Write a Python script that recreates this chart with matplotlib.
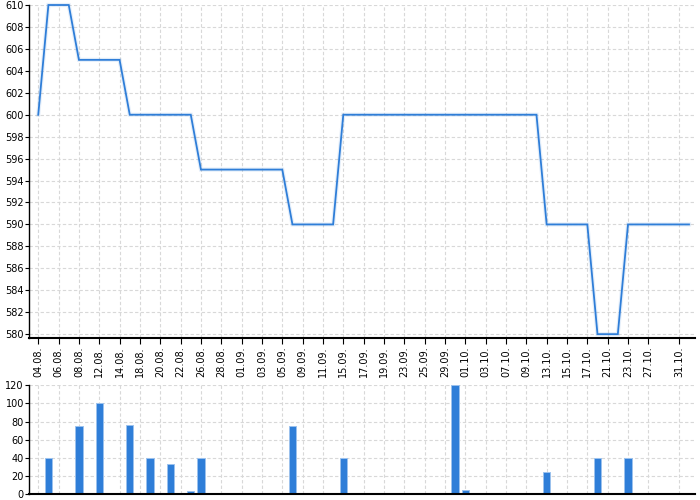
import matplotlib
matplotlib.use("Agg")
import matplotlib.pyplot as plt
import numpy as np

# Trading-day categories (labels)
dates = ["04.08.", "05.08.", "06.08.", "07.08.", "08.08.", "11.08.", "12.08.", "13.08.", "14.08.", "15.08.",
         "18.08.", "19.08.", "20.08.", "21.08.", "22.08.", "25.08.", "26.08.", "27.08.", "28.08.", "29.08.",
         "01.09.", "02.09.", "03.09.", "04.09.", "05.09.", "08.09.", "09.09.", "10.09.", "11.09.", "12.09.",
         "15.09.", "16.09.", "17.09.", "18.09.", "19.09.", "22.09.", "23.09.", "24.09.", "25.09.", "26.09.",
         "29.09.", "30.09.", "01.10.", "02.10.", "03.10.", "06.10.", "07.10.", "08.10.", "09.10.", "10.10.",
         "13.10.", "14.10.", "15.10.", "16.10.", "17.10.", "20.10.", "21.10.", "22.10.", "23.10.", "24.10.",
         "27.10.", "29.10.", "30.10.", "31.10.", "03.11."]

price = [600, 610, 610, 610, 605, 605, 605, 605, 605, 600,
         600, 600, 600, 600, 600, 600, 595, 595, 595, 595,
         595, 595, 595, 595, 595, 590, 590, 590, 590, 590,
         600, 600, 600, 600, 600, 600, 600, 600, 600, 600,
         600, 600, 600, 600, 600, 600, 600, 600, 600, 600,
         590, 590, 590, 590, 590, 580, 580, 580, 590, 590,
         590, 590, 590, 590, 590]

volume = [0, 40, 0, 0, 75, 0, 100, 0, 0, 76,
          0, 40, 0, 33, 0, 3, 40, 0, 0, 0,
          0, 0, 0, 0, 0, 75, 0, 0, 0, 0,
          40, 0, 0, 0, 0, 0, 0, 0, 0, 0,
          0, 120, 4, 0, 0, 0, 0, 0, 0, 0,
          24, 0, 0, 0, 0, 40, 0, 0, 40, 0,
          0, 0, 0, 0, 0]

shown_labels = ["04.08.", "06.08.", "08.08.", "12.08.", "14.08.", "18.08.", "20.08.", "22.08.",
                "26.08.", "28.08.", "01.09.", "03.09.", "05.09.", "09.09.", "11.09.", "15.09.",
                "17.09.", "19.09.", "23.09.", "25.09.", "29.09.", "01.10.", "03.10.", "07.10.",
                "09.10.", "13.10.", "15.10.", "17.10.", "21.10.", "23.10.", "27.10.", "31.10."]

blue = "#2f7ed8"
grid_kw = dict(color="#d8d8d8", linestyle=(0, (3, 2)), linewidth=0.8)

fig = plt.figure(figsize=(7, 5), dpi=100)
ax1 = fig.add_axes([0.042, 0.324, 0.951, 0.666])
ax2 = fig.add_axes([0.042, 0.012, 0.951, 0.2174])

x = np.arange(len(dates))
tick_pos = [dates.index(d) for d in shown_labels]

ax1.plot(x, price, color=blue, linewidth=3.0, alpha=0.12, solid_joinstyle="miter", clip_on=False)
ax1.plot(x, price, color=blue, linewidth=1.3, solid_joinstyle="miter", clip_on=False)
ax1.set_ylim(579.65, 610)
ax1.set_xlim(-0.87, 64.6)
ax1.set_yticks(np.arange(580, 611, 2))
ax1.set_xticks(tick_pos)
ax1.set_xticklabels(shown_labels, rotation=90, fontsize=7)
ax1.tick_params(axis="y", labelsize=7, length=3, width=0.8, pad=1)
ax1.tick_params(axis="x", length=4, width=0.8, pad=2)
ax1.grid(True, **grid_kw)
ax1.set_axisbelow(True)

ax2.bar(x, volume, width=0.72, color=blue, edgecolor="#9cc2ee", linewidth=0.7)
ax2.set_ylim(0, 120)
ax2.set_xlim(-0.87, 64.6)
ax2.set_yticks(np.arange(0, 121, 20))
ax2.set_xticks(tick_pos)
ax2.set_xticklabels([])
ax2.tick_params(axis="y", labelsize=7, length=3, width=0.8, pad=1)
ax2.tick_params(axis="x", length=0)
ax2.grid(True, **grid_kw)
ax2.set_axisbelow(True)

for ax in (ax1, ax2):
    ax.spines["top"].set_visible(False)
    ax.spines["right"].set_visible(False)
    ax.spines["left"].set_linewidth(1.0)
    ax.spines["bottom"].set_linewidth(1.5)

fig.savefig("out.png", dpi=100)
